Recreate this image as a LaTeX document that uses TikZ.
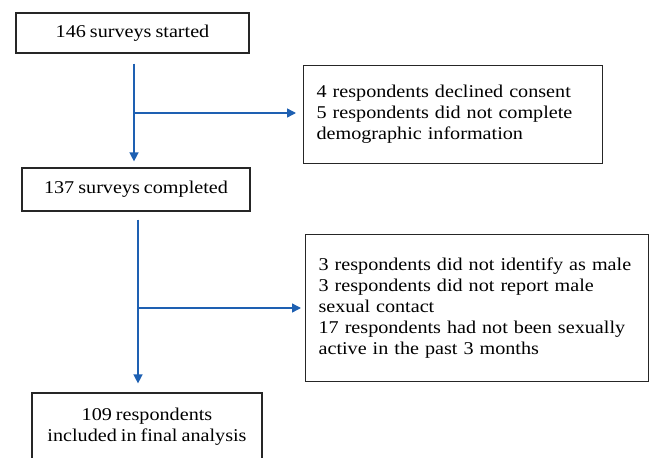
\documentclass[tikz,border=0pt]{standalone}
\usepackage{fontspec}
\setmainfont[FakeStretch=1.12,WordSpace=0.8]{Liberation Serif}
\usetikzlibrary{arrows.meta}
\definecolor{flowblue}{RGB}{30,96,178}
\begin{document}
\begin{tikzpicture}[x=1pt,y=-1pt,
    font=\fontsize{18}{21}\selectfont,
    box/.style={draw=black!85, line width=1.2pt, inner sep=0pt},
    sidebox/.style={box, align=left, inner xsep=13pt, anchor=north west},
    flow/.style={draw=flowblue, line width=1.4pt, -{Triangle[length=9pt,width=9pt]}}]
  \clip (0,0) rectangle (654,458);
  \useasboundingbox (0,0) rectangle (654,458);
  % main column
  \node[box, minimum width=233pt, minimum height=40pt] (started) at (132.5,33) {146 surveys started};
  \node[box, minimum width=228pt, minimum height=43pt] (completed) at (136,189.5) {137 surveys completed};
  \node[box, minimum width=230pt, minimum height=68pt, align=center] (final) at (147,427)
    {109 respondents\\included in final analysis};
  % exclusion boxes
  \node[sidebox, minimum width=299pt, minimum height=98pt, text width=273pt] (excl1) at (303,65)
    {4 respondents declined consent\\5 respondents did not complete\\demographic information};
  \node[sidebox, minimum width=343pt, minimum height=147pt, text width=317pt] (excl2) at (305,234)
    {3 respondents did not identify as male\\3 respondents did not report male\\sexual contact\\17 respondents had not been sexually\\active in the past 3 months};
  % connectors
  \coordinate (split1) at (134,113);
  \coordinate (split2) at (138,308);
  \draw[flow, shorten <=10pt, shorten >=6pt] (started.south -| split1) -- (completed.north -| split1);
  \draw[flow, shorten >=7pt] (split1) -- (split1 -| excl1.west);
  \draw[flow, shorten <=8pt, shorten >=9pt] (completed.south -| split2) -- (final.north -| split2);
  \draw[flow, shorten >=4pt] (split2) -- (split2 -| excl2.west);
\end{tikzpicture}
\end{document}
